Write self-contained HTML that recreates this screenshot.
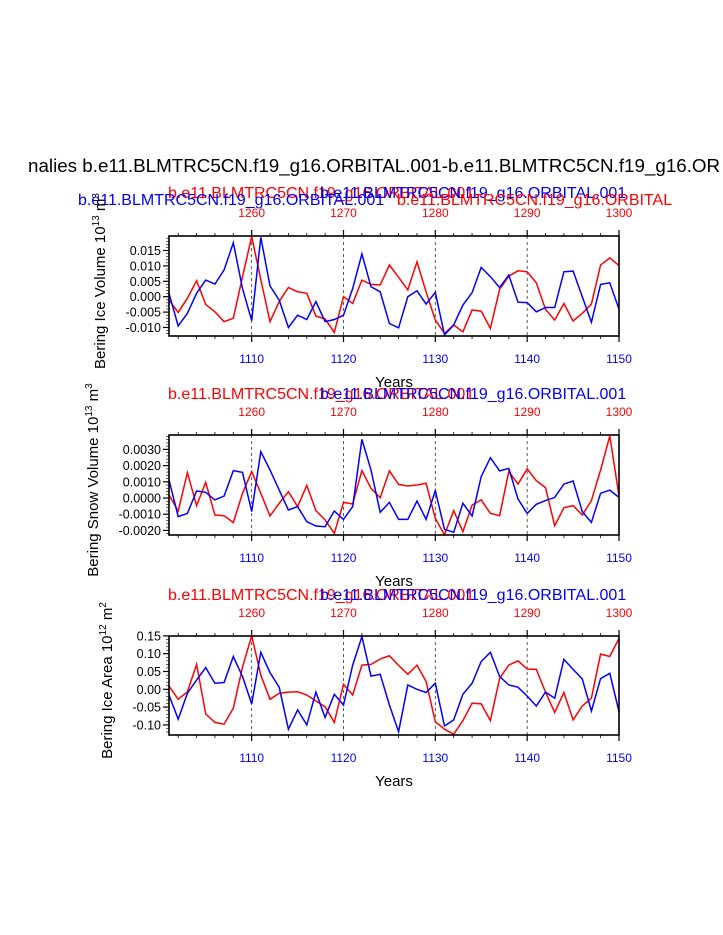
<!DOCTYPE html>
<html><head><meta charset="utf-8"><style>
body{margin:0;background:#fff}
svg{display:block;font-family:"Liberation Sans",sans-serif}
</style></head><body>
<svg id="c" width="723" height="935">
<text x="28" y="172" font-size="18.8" fill="#000">nalies b.e11.BLMTRC5CN.f19_g16.ORBITAL.001-b.e11.BLMTRC5CN.f19_g16.OR</text>
</svg>
<script>
const years=[];for(let i=0;i<50;i++)years.push(1101+i);
const xTicksBottom=[1110,1120,1130,1140,1150];
const xTicksTop=[1260,1270,1280,1290,1300];
const blue1=[0.0011,-0.0095,-0.0054,0.0011,0.0054,0.0041,0.0087,0.0175,0.0027,-0.0078,0.0193,0.0035,-0.0011,-0.0100,-0.0060,-0.0074,-0.0016,-0.0081,-0.0074,-0.0060,0.0027,0.0139,0.0032,0.0016,-0.0087,-0.0101,0,0.0019,-0.0024,0.0014,-0.0124,-0.0092,-0.0027,0.0013,0.0095,0.0065,0.0030,0.0070,-0.0018,-0.0019,-0.0049,-0.0035,-0.0035,0.0081,0.0083,0,-0.0083,0.0040,0.0045,-0.0041];
const red1=[-0.0011,-0.0051,-0.0005,0.0052,-0.0025,-0.0049,-0.0081,-0.0070,0.0065,0.0195,0.0056,-0.0081,-0.0016,0.0030,0.0016,0.0011,-0.0063,-0.0072,-0.0116,0,-0.0022,0.0054,0.0040,0.0038,0.0103,0.0063,0.0022,0.0113,0.0016,-0.0076,-0.0119,-0.0092,-0.0114,-0.0043,-0.0047,-0.0103,0.0024,0.0067,0.0084,0.0081,0.0045,-0.0041,-0.0076,-0.0022,-0.0079,-0.0054,-0.0024,0.0103,0.0126,0.0101];
const blue2=[0.00111,-0.00115,-0.00095,0.00043,0.00035,-0.00012,0.00012,0.00169,0.00158,-0.00084,0.00286,0.00173,0.00049,-0.00074,-0.00053,-0.00146,-0.00173,-0.00177,-0.0008,-0.00132,-0.00053,0.00362,0.00173,-0.00088,-0.00027,-0.00132,-0.00132,-0.00019,-0.00132,0.00045,-0.00193,-0.00212,-0.00033,-0.00111,0.00132,0.00249,0.00167,0.00183,-0.00006,-0.00095,-0.00039,-0.00016,0.00004,0.00086,0.00105,-0.00084,-0.0015,0.00029,0.00049,0.00004];
const red2=[0.00019,-0.0008,0.00156,-0.00047,0.00097,-0.00105,-0.00109,-0.00152,0.00029,0.00163,0.00029,-0.00111,-0.00033,0.00039,-0.00053,0.00078,-0.00078,-0.00136,-0.00218,-0.00027,-0.00037,0.00169,0.0006,0.00002,0.00167,0.00084,0.00074,0.0008,0.00091,-0.00126,-0.00228,-0.00078,-0.00208,-0.00043,-0.00012,-0.00095,-0.00109,0.00163,0.00086,0.00179,0.00107,0.00064,-0.00171,-0.0006,-0.00047,-0.00105,-0.00016,0.00173,0.00383,0.00014];
const blue3=[-0.016,-0.084,-0.011,0.026,0.061,0.017,0.019,0.092,0.036,-0.041,0.104,0.047,0.006,-0.112,-0.058,-0.1,-0.008,-0.079,-0.014,-0.044,0.068,0.148,0.037,0.042,-0.044,-0.119,0.012,0,-0.009,0.017,-0.103,-0.086,-0.014,0.017,0.078,0.104,0.036,0.012,0.006,-0.019,-0.047,-0.008,-0.025,0.084,0.056,0.029,-0.061,0.03,0.045,-0.063];
const red3=[0.009,-0.028,-0.007,0.07,-0.069,-0.093,-0.098,-0.053,0.062,0.15,0.04,-0.028,-0.011,-0.008,-0.007,-0.016,-0.033,-0.049,-0.093,0.014,-0.016,0.068,0.07,0.085,0.094,0.067,0.042,0.068,0.022,-0.091,-0.112,-0.126,-0.088,-0.039,-0.041,-0.088,0.031,0.068,0.08,0.057,0.056,-0.008,-0.065,-0.009,-0.086,-0.047,-0.025,0.099,0.092,0.143];
const yTicks1=[0.015,0.010,0.005,0.000,-0.005,-0.010];
const yLabels1=["0.015","0.010","0.005","0.000","-0.005","-0.010"];
const yTicks2=[0.003,0.002,0.001,0,-0.001,-0.002];
const yLabels2=["0.0030","0.0020","0.0010","0.0000","-0.0010","-0.0020"];
const yTicks3=[0.15,0.10,0.05,0,-0.05,-0.10];
const yLabels3=["0.15","0.10","0.05","0.00","-0.05","-0.10"];

const svg=document.getElementById('c');const NS='http://www.w3.org/2000/svg';
function mk(t,a,txt){const e=document.createElementNS(NS,t);for(const k in a)e.setAttribute(k,a[k]);if(txt!==undefined)e.textContent=txt;svg.appendChild(e);return e;}
const X0=169,X1=619;
const xs=v=>X0+(v-1101)/49*(X1-X0);

const panels=[
 {top:236,bot:336,zeroPx:296.7,unitPx:15.4/0.005,b:blue1,r:red1,yt:yTicks1,yl:yLabels1,title:'Bering Ice Volume 10',sup:'13',unit:' m',sup2:'3',tx:100,name:'ice-volume'},
 {top:435,bot:535,zeroPx:498,unitPx:16.2/0.001,b:blue2,r:red2,yt:yTicks2,yl:yLabels2,title:'Bering Snow Volume 10',sup:'13',unit:' m',sup2:'3',tx:93,name:'snow-volume'},
 {top:636,bot:735,zeroPx:689.3,unitPx:17.8/0.05,b:blue3,r:red3,yt:yTicks3,yl:yLabels3,title:'Bering Ice Area 10',sup:'12',unit:' m',sup2:'2',tx:107,name:'ice-area'}
];
panels.forEach((p,pi)=>{
 const ys=v=>p.zeroPx-v*p.unitPx;
 if(pi===0){
  let t=mk('text',{x:168,y:198,'font-size':16,fill:'#f00'},'b.e11.BLMTRC5CN.f19_g16.ORBITAL.001');
  t=mk('text',{x:78,y:205,'font-size':16,fill:'#00f'},'b.e11.BLMTRC5CN.f19_g16.ORBITAL.001');
  t=mk('text',{x:320,y:198,'font-size':16,fill:'#00f'},'b.e11.BLMTRC5CN.f19_g16.ORBITAL.001');
  t=mk('text',{x:397,y:205,'font-size':16,fill:'#f00'},'b.e11.BLMTRC5CN.f19_g16.ORBITAL');
 }else{
  const yy=p.top-36;
  let t=mk('text',{x:168,y:yy,'font-size':16,fill:'#f00'},'b.e11.BLMTRC5CN.f19_g16.ORBITAL.001');
  t=mk('text',{x:320,y:yy,'font-size':16,fill:'#00f'},'b.e11.BLMTRC5CN.f19_g16.ORBITAL.001');
 }
 [1110,1120,1130,1140].forEach(v=>{const l=mk('line',{x1:xs(v),x2:xs(v),y1:p.top,y2:p.bot,stroke:'#333','stroke-width':0.8,'stroke-dasharray':'3,3'});});
 for(let v=1102;v<=1150;v+=2){const maj=(v%10===0);
  let l=mk('line',{x1:xs(v),x2:xs(v),y1:p.bot,y2:p.bot+(maj?6:3),stroke:'#000','stroke-width':maj?1.2:0.8});
  l=mk('line',{x1:xs(v),x2:xs(v),y1:p.top,y2:p.top-(maj?6:3),stroke:'#000','stroke-width':maj?1.2:0.8});}
 xTicksBottom.forEach(v=>{const t=mk('text',{x:xs(v),y:p.bot+27,'font-size':12,fill:'#00f','text-anchor':'middle'},String(v));});
 xTicksTop.forEach((v,i)=>{const t=mk('text',{x:xs(xTicksBottom[i]),y:p.top-19,'font-size':12,fill:'#f00','text-anchor':'middle'},String(v));});
 const step=p.yt[0]-p.yt[1];
 p.yt.forEach((v,i)=>{const y=ys(v);
  let l=mk('line',{x1:X0-6,x2:X0,y1:y,y2:y,stroke:'#000','stroke-width':1.2});
  const t=mk('text',{x:X0-8,y:y+4.5,'font-size':12.5,fill:'#000','text-anchor':'end'},p.yl[i]);
 });
 for(let k=-8;k<40;k++){const v=p.yt[p.yt.length-1]+k*step/5;const y=ys(v);if(y<p.top||y>p.bot)continue;
  const l=mk('line',{x1:X0-3,x2:X0,y1:y,y2:y,stroke:'#000','stroke-width':0.6});}
 const path=arr=>arr.map((v,i)=>(i?'L':'M')+xs(years[i]).toFixed(1)+','+ys(v).toFixed(1)).join('');
 let s=mk('path',{d:path(p.r),fill:'none',stroke:'#f00','stroke-width':1.5});
 s=mk('path',{d:path(p.b),fill:'none',stroke:'#00f','stroke-width':1.5});
 const f=mk('rect',{x:X0,y:p.top,width:X1-X0,height:p.bot-p.top,fill:'none',stroke:'#000','stroke-width':1.6});
 const yt=mk('text',{x:0,y:0,'font-size':15,fill:'#000','text-anchor':'middle',transform:`translate(${p.tx+5},${(p.top+p.bot)/2-5}) rotate(-90)`});
 
 yt.innerHTML=`${p.title}<tspan dy="-6" font-size="10">${p.sup}</tspan><tspan dy="6">${p.unit}</tspan><tspan dy="-6" font-size="10">${p.sup2}</tspan>`;
 const xt=mk('text',{x:394,y:p.bot+51,'font-size':15,fill:'#000','text-anchor':'middle'},'Years');
});
</script>
</body></html>
